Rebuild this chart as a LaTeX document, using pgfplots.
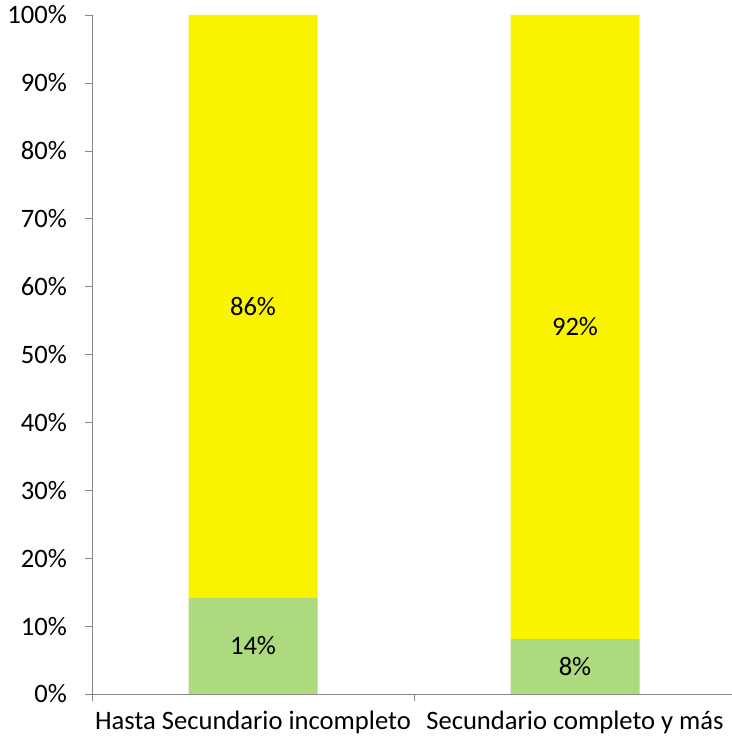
\documentclass[border=0pt]{standalone}
\usepackage{fontspec}
\setmainfont{Carlito}
\usepackage{pgfplots}
\pgfplotsset{compat=1.18}
\usetikzlibrary{calc}
\definecolor{verde}{RGB}{173,217,127}
\definecolor{amarillo}{RGB}{250,244,0}
\definecolor{eje}{RGB}{134,134,134}
\begin{document}
\begin{tikzpicture}[x=1pt,y=1pt]
\begin{axis}[
    scale only axis,
    width=322pt, height=339.5pt,
    ybar stacked, bar width=64.5pt,
    xmin=-0.5, xmax=1.5, ymin=0, ymax=100,
    axis x line=bottom, axis y line=left,
    axis line style={eje,-},
    xtick={-0.5,0.5,1.5},
    xticklabels={},
    extra x ticks={0,1},
    extra x tick labels={Hasta Secundario incompleto, Secundario completo y más},
    extra x tick style={tick style={draw=none}, xticklabel style={yshift=-1.5pt}},
    ytick={0,10,...,100},
    yticklabel={\pgfmathprintnumber{\tick}\%},
    tick style={eje},
    major tick length=3.5pt,
    tick align=outside,
    /pgf/number format/assume math mode=true,
    tick label style={font=\fontsize{13.3}{15}\selectfont, black},
    yticklabel style={xshift=-5.5pt},
    nodes near coords={\pgfmathprintnumber{\pgfplotspointmeta}\%},
    nodes near coords align=center,
    every node near coord/.append style={font=\fontsize{13.3}{15}\selectfont, black, anchor=center},
    point meta=explicit,
]
\coordinate (o) at (rel axis cs:0,0);
\coordinate (t) at (rel axis cs:1,1);
\addplot[fill=verde, draw=none] coordinates {(0,14.2) [14] (1,8.1) [8]};
\addplot[fill=amarillo, draw=none] coordinates {(0,85.8) [86] (1,91.9) [92]};
\end{axis}
\pgfresetboundingbox
\path[use as bounding box] ($(o)+(-46pt,-24pt)$) rectangle ($(t)+(-2.25pt,7.5pt)$);
\end{tikzpicture}
\end{document}
